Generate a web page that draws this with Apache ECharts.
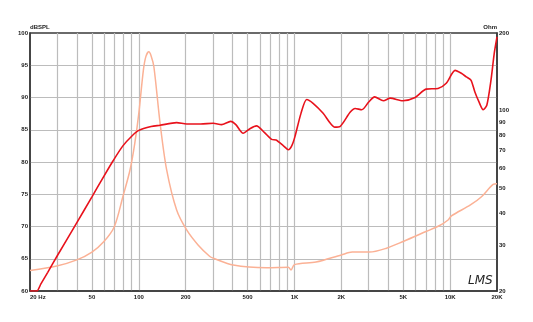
<!DOCTYPE html>
<html>
<head>
<meta charset="utf-8">
<script src="https://cdn.jsdelivr.net/npm/echarts@6/dist/echarts.min.js"></script>
<style>
html,body{margin:0;padding:0;background:#fff;}
#c{width:533px;height:322px;}
</style>
</head>
<body>
<div id="c"></div>
<script>
// Frequency axis tick labels and grid lines (Hz)
const freqLabelValues = [20, 50, 100, 200, 500, 1000, 2000, 5000, 10000, 20000];
const freqLabelTexts = ['20 Hz', '50', '100', '200', '500', '1K', '2K', '5K', '10K', '20K'];
const freqGridValues = [30, 40, 50, 60, 70, 80, 90, 100, 200, 300, 400, 500, 600, 700, 800, 900,
  1000, 2000, 3000, 4000, 5000, 6000, 7000, 8000, 9000, 10000];
// Impedance axis tick labels (Ohm)
const ohmLabelValues = [20, 30, 40, 50, 60, 70, 80, 90, 100, 200];

// SPL response (dB)
const splFreq = [20, 22.1, 23.5, 26, 30, 40, 50, 60, 68.4, 79, 90, 100, 120, 137, 175, 203, 250, 301, 340, 389, 420, 468, 520, 570, 640, 714, 762, 850, 913, 960, 1006, 1100, 1198, 1317, 1528, 1700, 1816, 1960, 2276, 2452, 2706, 3000, 3272, 3728, 4120, 4960, 5960, 7000, 8360, 9440, 10760, 11800, 12700, 13600, 14400, 15300, 16300, 17200, 18300, 19200, 20000];
const splDb = [60, 60, 61.1, 62.9, 65.5, 70.6, 74.6, 77.9, 80.2, 82.5, 84.0, 84.9, 85.5, 85.7, 86.1, 85.9, 85.9, 86.0, 85.8, 86.3, 85.8, 84.45, 85.2, 85.6, 84.6, 83.5, 83.4, 82.5, 81.9, 82.5, 83.9, 87.5, 89.7, 89.1, 87.55, 86.0, 85.4, 85.5, 87.7, 88.3, 88.1, 89.3, 90.1, 89.5, 89.9, 89.5, 90.0, 91.3, 91.4, 92.2, 94.2, 93.75, 93.2, 92.7, 90.9, 89.35, 88.1, 88.8, 92.7, 96.85, 99.4];

// Impedance (Ohm)
const impFreq = [20, 29.7, 40, 50, 59.7, 69.6, 79, 87.8, 94, 100, 107, 111, 116, 120, 125, 137, 151, 175, 203, 241, 286, 301, 404, 662, 913, 950, 1000, 1376, 2000, 2350, 3030, 3900, 4990, 7000, 8500, 9700, 10200, 13500, 15900, 18900, 20000];
const impOhm = [24.0, 25.0, 26.4, 28.3, 31.1, 35.5, 46.4, 58.9, 74, 97.6, 143.6, 162, 169, 163, 148, 89.3, 58.9, 41.2, 34.5, 30.1, 27.2, 26.8, 25.2, 24.6, 24.7, 24.1, 25.3, 25.9, 27.6, 28.3, 28.3, 29.3, 31.1, 34.0, 35.8, 37.7, 39.1, 43.1, 46.4, 51.8, 52.1];

const L = Math.log10;
const near = (a, b) => Math.abs(a - b) < 1e-6;
const labelFont = { fontSize: 6, fontWeight: 'bold', color: '#222', fontFamily: 'Liberation Sans, Arial, sans-serif' };
const dark = '#3a3a3a';
const gridGray = '#bcbcbc';

const chart = echarts.init(document.getElementById('c'), null, { renderer: 'canvas' });
chart.setOption({
  animation: false,
  backgroundColor: '#fff',
  grid: { left: 30, right: 36, top: 33, bottom: 31, show: true, borderColor: dark, borderWidth: 1.5, backgroundColor: '#fff' },
  xAxis: {
    type: 'value', min: L(20), max: L(20000),
    axisLine: { show: true, lineStyle: { color: dark, width: 1.5 } },
    axisTick: { show: false, customValues: freqGridValues.map(L) },
    splitLine: { show: true, lineStyle: { color: gridGray, width: 1.2 } },
    axisLabel: Object.assign({
      customValues: freqLabelValues.map(L),
      margin: 3,
      alignMinLabel: 'left',
      formatter: v => { const i = freqLabelValues.findIndex(f => near(L(f), v)); return i >= 0 ? freqLabelTexts[i] : ''; }
    }, labelFont)
  },
  yAxis: [{
    type: 'value', min: 60, max: 100, interval: 5,
    name: 'dBSPL', nameLocation: 'end', nameGap: 1,
    nameTextStyle: Object.assign({ align: 'left' }, labelFont),
    axisLine: { show: true, lineStyle: { color: dark, width: 1.5 } },
    axisTick: { show: false },
    splitLine: { show: true, showMinLine: false, showMaxLine: false, lineStyle: { color: gridGray, width: 1.2 } },
    axisLabel: Object.assign({ margin: 2 }, labelFont)
  }, {
    type: 'value', min: L(20), max: L(200), position: 'right',
    name: 'Ohm', nameLocation: 'end', nameGap: 1,
    nameTextStyle: Object.assign({ align: 'right' }, labelFont),
    axisLine: { show: true, lineStyle: { color: dark, width: 1.5 } },
    axisTick: { show: false, customValues: ohmLabelValues.map(L) },
    splitLine: { show: false },
    axisLabel: Object.assign({
      customValues: ohmLabelValues.map(L),
      margin: 2,
      formatter: v => { const o = ohmLabelValues.find(x => near(L(x), v)); return o ? String(o) : ''; }
    }, labelFont)
  }],
  graphic: [{
    type: 'text', left: 468, top: 275,
    style: { text: 'LMS', font: 'italic 12px "DejaVu Sans", sans-serif', fill: '#222' }
  }],
  series: [{
    type: 'line', yAxisIndex: 1, showSymbol: false, smooth: 0.3, z: 2,
    lineStyle: { color: '#fbb195', width: 1.5 },
    data: impFreq.map((f, i) => [L(f), L(impOhm[i])])
  }, {
    type: 'line', yAxisIndex: 0, showSymbol: false, smooth: 0.25, z: 3,
    lineStyle: { color: '#e8121c', width: 1.6 },
    data: splFreq.map((f, i) => [L(f), splDb[i]])
  }]
});
</script>
</body>
</html>
